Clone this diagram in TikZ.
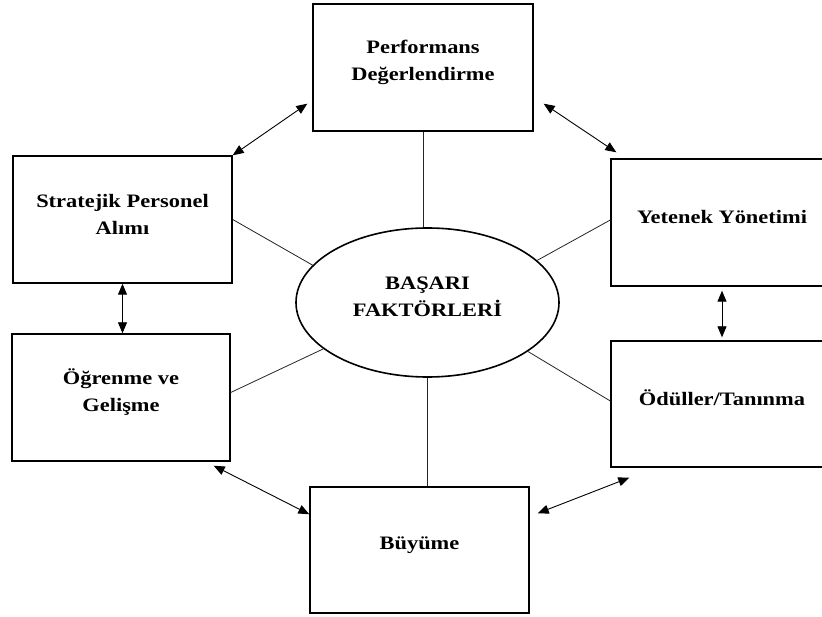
\documentclass[tikz,border=0pt]{standalone}
\usepackage{fontspec}
\newfontfamily\lblfont[FakeStretch=1.18]{Liberation Serif}
\usetikzlibrary{shapes.geometric,arrows.meta,calc}
\begin{document}
\begin{tikzpicture}[x=1pt,y=-1pt,
  box/.style={draw, line width=1.4pt, minimum height=127pt, inner sep=0pt},
  lbl/.style={font=\lblfont\bfseries\fontsize{19}{27}\selectfont, align=center, inner sep=0pt},
  link/.style={line width=0.8pt, draw=black!85},
  arr/.style={line width=0.9pt, draw=black, {Triangle[length=11pt,width=9pt]}-{Triangle[length=11pt,width=9pt]}}]
\useasboundingbox (0,0) rectangle (822,617);
\fill[white] (0,0) rectangle (822,617);
\clip (0,0) rectangle (822,617);
% boxes
\node[box, minimum width=220pt] (perf) at (423,67.5) {};
\node[box, minimum width=219pt] (strat) at (122.5,219.5) {};
\node[box, minimum width=222pt] (yet) at (722,222.5) {};
\node[box, minimum width=218pt] (ogr) at (121,397.5) {};
\node[box, minimum width=222pt, minimum height=126pt] (odl) at (722,404) {};
\node[box, minimum width=219pt, minimum height=126pt] (buy) at (419.5,550) {};
\node[draw, ellipse, line width=1.6pt, minimum width=263pt, minimum height=149pt, inner sep=0pt] (ell) at (427.5,302.5) {};
% labels
\node[lbl] (perfT) at ($(perf.center)+(0,-5)$) {Performans\\Değerlendirme};
\node[lbl] (stratT) at ($(strat.center)+(0,-5)$) {Stratejik Personel\\Alımı};
\node[lbl] (yetT) at ($(yet.center)+(0,-5)$) {Yetenek Yönetimi};
\node[lbl] (ogrT) at ($(ogr.center)+(0,-5)$) {Öğrenme ve\\Gelişme};
\node[lbl] (odlT) at ($(odl.center)+(0,-6)$) {Ödüller/Tanınma};
\node[lbl] (buyT) at ($(buy.center)+(0,-5)$) {Büyüme};
\node[lbl] (ellT) at ($(ell.center)+(0,-6)$) {BAŞARI\\FAKTÖRLERİ};
% plain links
\draw[link] (perf.south) -- (perf.south |- ell.north);
\draw[link] (ell.south) -- (ell.south |- buy.north);
\draw[link] (ell.162) -- (strat.east);
\draw[link] (ell.21) -- ($(yet.west)+(0,-2.5)$);
\draw[link] (ell.204) -- ($(ogr.east)+(0,-5)$);
\draw[link] (ell.334) -- ($(odl.west)+(0,-3)$);
% double arrows
\draw[arr] (strat.north east) -- ($(perf.south west)+(-5,-28)$);
\draw[arr] ($(perf.south east)+(10,-28)$) -- ($(yet.north west)+(6,-6)$);
\draw[arr] (strat.south) -- (strat.south |- ogr.north);
\draw[arr] ($(yet.south)+(0,4)$) -- ($(odl.north)+(0,-3)$);
\draw[arr] ($(ogr.south east)+(-17,4)$) -- ($(buy.north west)+(0,28)$);
\draw[arr] ($(buy.north east)+(8,27)$) -- ($(odl.south west)+(19,10)$);
\end{tikzpicture}
\end{document}
